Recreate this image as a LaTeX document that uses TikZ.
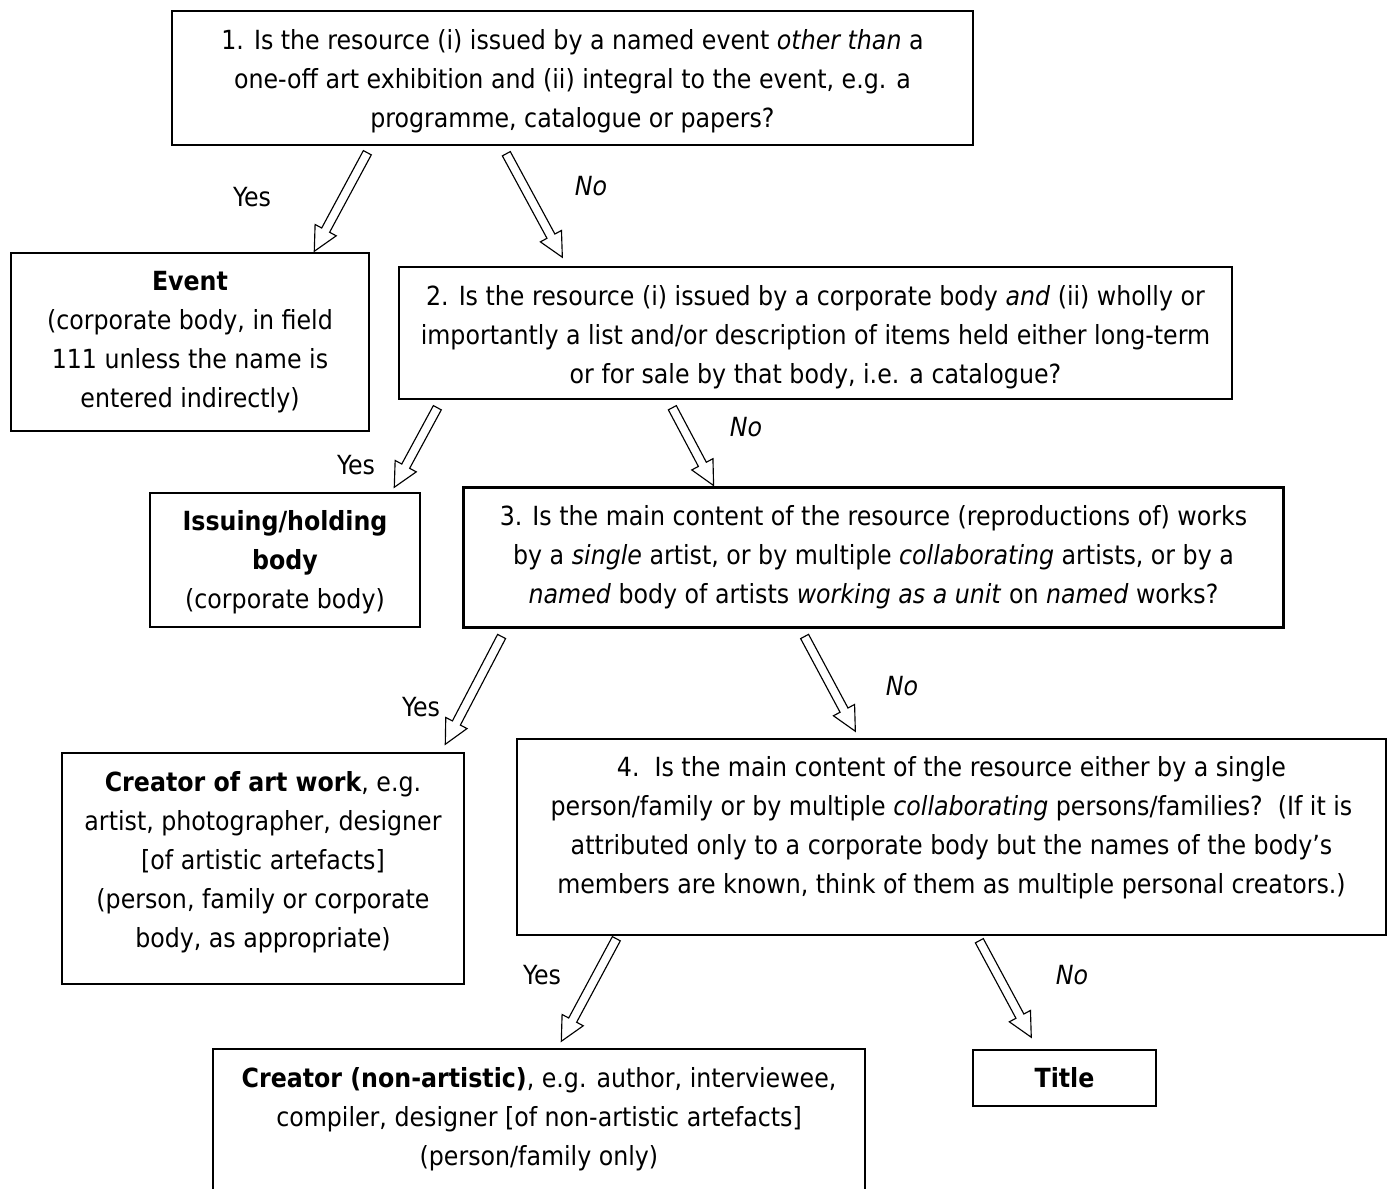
\documentclass[tikz,border=0pt]{standalone}
\usepackage{fontspec}
\setmainfont{DejaVu Sans Condensed}
\usepackage{tikz}
\usetikzlibrary{calc}
\newcommand{\hollowarrow}[2]{%
  \path ($(#2)!0.48cm!(#1)$) coordinate (ahb);
  \draw[fill=white,line width=0.65pt,line join=miter]
    ($(#1)!0.09cm!90:(#2)$) -- ($(ahb)!0.09cm!-90:(#1)$) -- ($(ahb)!0.24cm!-90:(#1)$)
    -- (#2) -- ($(ahb)!0.24cm!90:(#1)$) -- ($(ahb)!0.09cm!90:(#1)$)
    -- ($(#1)!0.09cm!-90:(#2)$) -- cycle;
}
\newcommand{\topstrut}[1]{\rule{0pt}{#1}}

\begin{document}
\begin{tikzpicture}[x=0.02cm,y=-0.02cm,
  box/.style={draw,line width=0.85pt,inner sep=0pt,align=center,
    font=\fontsize{15}{22.2}\selectfont},
  ans/.style={font=\fontsize{15}{22.2}\selectfont}]
  \useasboundingbox (0,0) rectangle (1387,1189);

  % questions
  \node[box,minimum width=16.02cm,minimum height=2.68cm] (q1) at (572.5,78)
    {\topstrut{0.53cm}1. Is the resource (i) issued by a named event \emph{other than} a\\
     one-off art exhibition and (ii) integral to the event, e.g. a\\
     programme, catalogue or papers?};
  \node[box,minimum width=16.66cm,minimum height=2.64cm] (q2) at (815.5,333)
    {\topstrut{0.57cm}2. Is the resource (i) issued by a corporate body \emph{and} (ii) wholly or\\
     importantly a list and/or description of items held either long-term\\
     or for sale by that body, i.e. a catalogue?};
  \node[box,line width=1.7pt,minimum width=16.42cm,minimum height=2.82cm] (q3) at (873.5,557.5)
    {3. Is the main content of the resource (reproductions of) works\\
     by a \emph{single} artist, or by multiple \emph{collaborating} artists, or by a\\
     \emph{named} body of artists \emph{working as a unit} on \emph{named} works?};
  \node[box,minimum width=17.38cm,minimum height=3.92cm] (q4) at (951.5,837)
    {4.\ \ Is the main content of the resource either by a single\\
     person/family or by multiple \emph{collaborating} persons/families?\ \ (If it is\\
     attributed only to a corporate body but the names of the body’s\\
     members are known, think of them as multiple personal creators.)\rule[-0.48cm]{0pt}{0pt}};

  % answers
  \node[box,minimum width=7.16cm,minimum height=3.56cm] (event) at (190,342)
    {\textbf{Event}\\ (corporate body, in field\\ 111 unless the name is\\ entered indirectly)};
  \node[box,minimum width=5.40cm,minimum height=2.68cm] (issue) at (285,560)
    {\topstrut{0.49cm}\textbf{Issuing/holding}\\ \textbf{body}\\ (corporate body)};
  \node[box,minimum width=8.04cm,minimum height=4.62cm] (art) at (263,868.5)
    {\textbf{Creator of art work}, e.g.\\ artist, photographer, designer\\
     {[}of artistic artefacts]\\ (person, family or corporate\\ body, as appropriate)\rule[-0.38cm]{0pt}{0pt}};
  \node[box,minimum width=13.04cm,minimum height=3.00cm] (nonart) at (539,1124)
    {\textbf{Creator (non-artistic)}, e.g. author, interviewee,\\
     compiler, designer [of non-artistic artefacts]\\
     (person/family only)\rule[-0.29cm]{0pt}{0pt}};
  \node[box,minimum width=3.66cm,minimum height=1.12cm] (title) at (1064.5,1078)
    {\textbf{Title}};

  % arrow ends
  \coordinate (y1a) at ($(q1.south west)+(196,7)$);
  \coordinate (y1b) at ($(event.north west)+(304,-1)$);
  \coordinate (n1a) at ($(q1.south west)+(335,8)$);
  \coordinate (n1b) at ($(q2.north west)+(164,-9)$);
  \coordinate (y2a) at ($(q2.south west)+(39,8)$);
  \coordinate (y2b) at ($(issue.north west)+(245,-5)$);
  \coordinate (n2a) at ($(q2.south west)+(274,8)$);
  \coordinate (n2b) at ($(q3.north west)+(252,0)$);
  \coordinate (y3a) at ($(q3.south west)+(40,7)$);
  \coordinate (y3b) at ($(art.north west)+(384,-8)$);
  \coordinate (n3a) at ($(q3.south west)+(343,7)$);
  \coordinate (n3b) at ($(q4.north west)+(339,-7)$);
  \coordinate (y4a) at ($(q4.south west)+(100,3)$);
  \coordinate (y4b) at ($(nonart.north west)+(349,-7)$);
  \coordinate (n4a) at ($(q4.south west)+(463,5)$);
  \coordinate (n4b) at ($(title.north west)+(59,-12)$);

  \foreach \a/\b in {y1a/y1b,n1a/n1b,y2a/y2b,n2a/n2b,y3a/y3b,n3a/n3b,y4a/y4b,n4a/n4b}
    \hollowarrow{\a}{\b};

  % labels
  \node[ans] (yes1) at (252,197) {Yes};
  \node[ans] (no1) at (591,186) {\emph{No}};
  \node[ans] (yes2) at (356,465) {Yes};
  \node[ans] (no2) at (746,427) {\emph{No}};
  \node[ans] (yes3) at (421,707) {Yes};
  \node[ans] (no3) at (902,686) {\emph{No}};
  \node[ans] (yes4) at (542,975) {Yes};
  \node[ans] (no4) at (1072,975) {\emph{No}};
\end{tikzpicture}
\end{document}
